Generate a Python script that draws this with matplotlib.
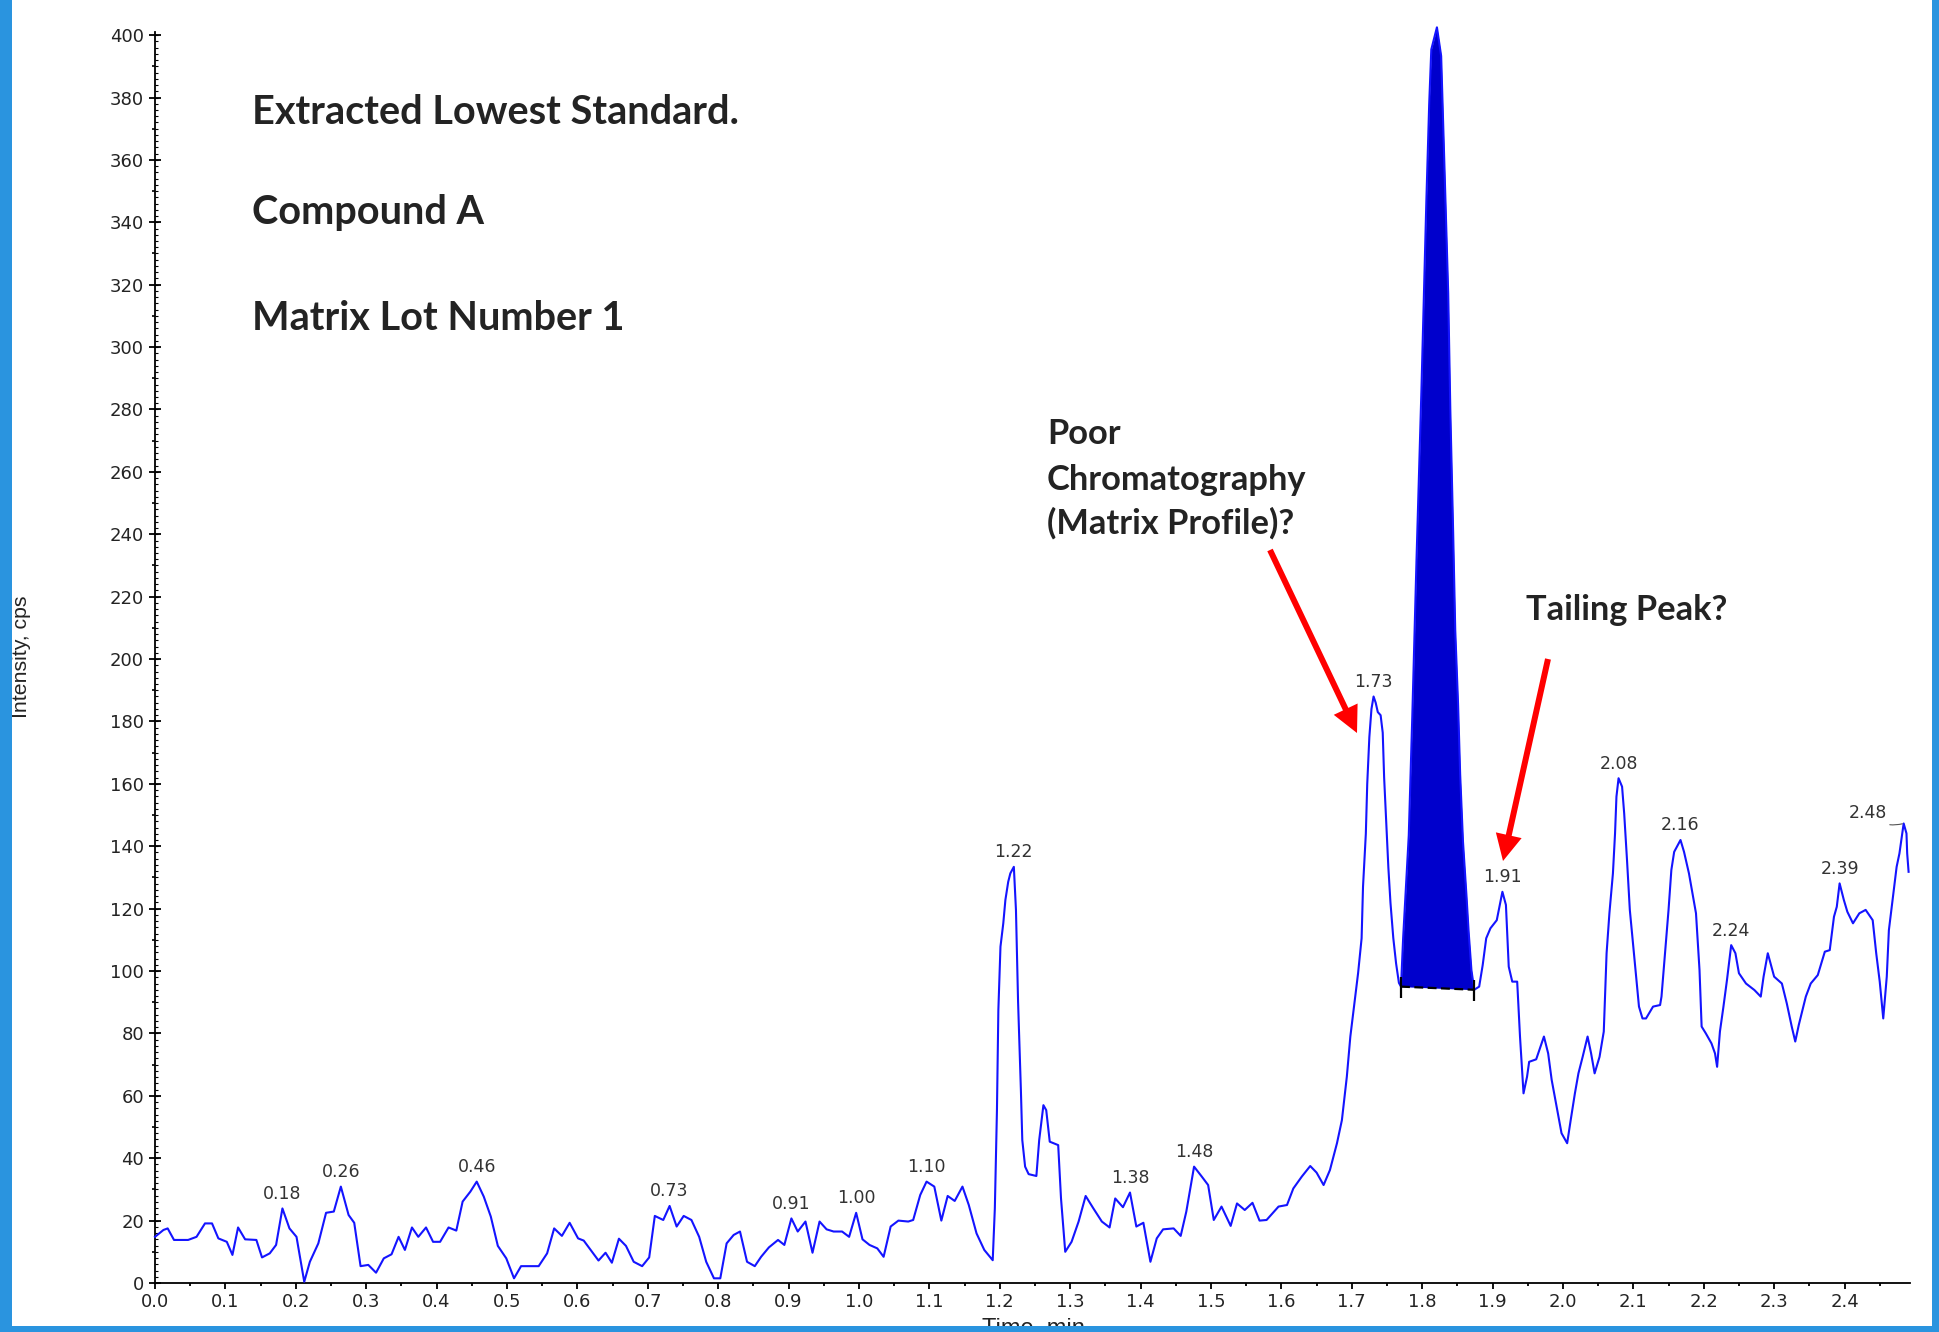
import numpy as np
import matplotlib
matplotlib.use("Agg")
import matplotlib.pyplot as plt
from matplotlib.ticker import MultipleLocator, FormatStrFormatter
from matplotlib.font_manager import FontProperties
from matplotlib.textpath import TextPath
from matplotlib.patches import Rectangle, FancyArrowPatch

# ---------------------------------------------------------------------------
# Extracted ion chromatogram: retention time (min) and intensity (cps)
# ---------------------------------------------------------------------------
time_min = [
    0.000, 0.012, 0.018, 0.027, 0.047, 0.059, 0.071, 0.081, 0.090, 0.102,
    0.110, 0.118, 0.128, 0.144, 0.152, 0.163, 0.172, 0.181, 0.191, 0.201,
    0.212, 0.220, 0.232, 0.243, 0.254, 0.264, 0.275, 0.283, 0.292, 0.303,
    0.314, 0.325, 0.336, 0.346, 0.355, 0.365, 0.374, 0.385, 0.395, 0.405,
    0.417, 0.428, 0.437, 0.448, 0.457, 0.467, 0.477, 0.487, 0.499, 0.510,
    0.520, 0.545, 0.557, 0.567, 0.578, 0.589, 0.601, 0.609, 0.630, 0.640,
    0.649, 0.659, 0.669, 0.680, 0.692, 0.702, 0.710, 0.722, 0.731, 0.741,
    0.751, 0.762, 0.773, 0.783, 0.794, 0.803, 0.812, 0.822, 0.831, 0.841,
    0.852, 0.861, 0.872, 0.885, 0.894, 0.904, 0.913, 0.924, 0.934, 0.944,
    0.954, 0.964, 0.976, 0.986, 0.996, 1.005, 1.015, 1.026, 1.035, 1.045,
    1.056, 1.070, 1.077, 1.087, 1.096, 1.107, 1.117, 1.126, 1.136, 1.147,
    1.156, 1.167, 1.178, 1.190, 1.193, 1.196, 1.198, 1.201, 1.205, 1.208,
    1.212, 1.215, 1.220, 1.223, 1.226, 1.230, 1.232, 1.236, 1.241, 1.252,
    1.256, 1.262, 1.266, 1.271, 1.283, 1.287, 1.293, 1.302, 1.312, 1.322,
    1.333, 1.345, 1.356, 1.364, 1.375, 1.385, 1.394, 1.404, 1.414, 1.423,
    1.432, 1.447, 1.457, 1.465, 1.476, 1.487, 1.496, 1.504, 1.515, 1.528,
    1.537, 1.548, 1.559, 1.569, 1.579, 1.596, 1.608, 1.617, 1.629, 1.641,
    1.650, 1.660, 1.669, 1.679, 1.686, 1.693, 1.698, 1.705, 1.709, 1.714,
    1.716, 1.720, 1.722, 1.725, 1.728, 1.731, 1.734, 1.737, 1.741, 1.744,
    1.746, 1.749, 1.752, 1.755, 1.759, 1.763, 1.767, 1.770, 1.773, 1.781,
    1.786, 1.792, 1.799, 1.806, 1.810, 1.813, 1.821, 1.827, 1.829, 1.833,
    1.837, 1.840, 1.844, 1.847, 1.851, 1.854, 1.858, 1.863, 1.866, 1.870,
    1.874, 1.881, 1.886, 1.891, 1.897, 1.906, 1.914, 1.919, 1.923, 1.928,
    1.935, 1.939, 1.944, 1.949, 1.952, 1.962, 1.973, 1.979, 1.984, 1.991,
    1.998, 2.006, 2.011, 2.017, 2.022, 2.028, 2.035, 2.040, 2.045, 2.052,
    2.058, 2.062, 2.066, 2.071, 2.074, 2.076, 2.079, 2.084, 2.087, 2.091,
    2.095, 2.100, 2.105, 2.108, 2.113, 2.118, 2.128, 2.138, 2.140, 2.145,
    2.150, 2.154, 2.158, 2.167, 2.172, 2.179, 2.184, 2.189, 2.194, 2.197,
    2.203, 2.211, 2.216, 2.219, 2.223, 2.228, 2.233, 2.239, 2.245, 2.250,
    2.260, 2.272, 2.281, 2.285, 2.291, 2.300, 2.311, 2.318, 2.325, 2.330,
    2.335, 2.345, 2.352, 2.362, 2.372, 2.379, 2.385, 2.389, 2.393, 2.399,
    2.404, 2.412, 2.421, 2.430, 2.440, 2.445, 2.450, 2.455, 2.460, 2.463,
    2.468, 2.474, 2.478, 2.484, 2.488, 2.489, 2.491,
]

intensity_cps = [
    14.8, 17.0, 17.5, 13.8, 13.8, 14.8, 19.1, 19.1, 14.3, 13.2,
    9.0, 17.8, 14.0, 13.8, 8.2, 9.5, 12.2, 23.9, 17.5, 14.8,
    0.4, 6.8, 12.7, 22.5, 22.9, 30.9, 21.8, 19.3, 5.4, 5.8,
    3.3, 7.9, 9.2, 14.8, 10.6, 17.8, 14.8, 17.8, 13.2, 13.2,
    17.8, 16.8, 26.1, 29.3, 32.5, 27.7, 21.3, 11.9, 7.9, 1.5,
    5.4, 5.4, 9.5, 17.5, 15.1, 19.3, 14.3, 13.6, 7.2, 9.7,
    6.5, 14.2, 11.9, 6.8, 5.4, 8.2, 21.5, 20.2, 24.7, 18.1,
    21.5, 20.2, 14.8, 6.8, 1.5, 1.5, 12.7, 15.4, 16.5, 6.8,
    5.4, 8.4, 11.4, 13.8, 12.2, 20.7, 16.5, 19.7, 9.7, 19.7,
    17.2, 16.5, 16.5, 14.8, 22.5, 14.0, 12.2, 11.1, 8.4, 18.1,
    20.0, 19.7, 20.2, 28.2, 32.5, 30.9, 20.0, 27.9, 26.3, 30.9,
    25.0, 15.9, 10.6, 7.3, 23.9, 55.4, 87.5, 107.8, 115.3, 122.8,
    128.6, 131.3, 133.4, 119.6, 90.2, 61.9, 45.8, 37.3, 34.9, 34.3,
    45.8, 57.0, 55.4, 45.3, 44.2, 27.1, 10.0, 13.2, 19.7, 27.9,
    23.9, 19.7, 17.8, 27.1, 24.3, 29.0, 18.1, 19.3, 6.8, 14.3,
    17.2, 17.5, 15.1, 22.9, 37.3, 34.1, 31.4, 20.2, 24.5, 18.3,
    25.5, 23.4, 25.7, 20.0, 20.2, 24.5, 25.0, 30.3, 34.1, 37.5,
    35.4, 31.4, 36.2, 44.8, 52.2, 66.1, 79.0, 91.8, 99.3, 110.5,
    127.0, 144.0, 160.0, 175.0, 184.0, 188.0, 186.0, 183.0, 182.0, 176.4,
    162.0, 147.6, 133.2, 121.9, 110.6, 102.4, 96.2, 95.0, 110.6, 143.5,
    181.6, 231.9, 286.4, 347.0, 377.9, 395.4, 402.5, 393.3, 378.0, 348.0,
    317.3, 280.0, 241.0, 209.3, 185.7, 163.0, 141.5, 124.0, 112.7, 100.3,
    94.0, 95.0, 101.9, 110.5, 113.7, 116.3, 125.4, 121.2, 101.4, 96.6,
    96.6, 79.0, 60.8, 66.1, 70.9, 71.7, 79.0, 73.6, 65.1, 56.5,
    48.0, 44.8, 52.2, 60.8, 67.2, 72.5, 79.0, 73.6, 67.2, 72.5,
    80.6, 105.7, 118.5, 131.3, 144.1, 155.9, 161.8, 159.1, 150.5, 135.6,
    119.6, 107.8, 96.0, 88.6, 84.8, 84.8, 88.6, 89.1, 91.8, 105.7,
    119.6, 132.4, 138.2, 142.0, 138.2, 131.3, 124.9, 118.5, 100.3, 82.2,
    80.0, 76.8, 73.6, 69.3, 80.6, 88.6, 97.1, 108.3, 105.7, 99.3,
    96.0, 93.9, 91.8, 98.2, 105.7, 98.2, 96.0, 89.6, 82.2, 77.4,
    82.7, 91.8, 96.0, 98.7, 106.2, 106.7, 117.4, 120.6, 128.1, 122.8,
    119.0, 115.3, 118.5, 119.6, 116.3, 105.7, 96.6, 84.8, 98.2, 113.1,
    122.2, 133.4, 137.7, 147.3, 144.1, 137.7, 131.8,
]

# apex retention times annotated by the data system
peak_labels = ["0.18", "0.26", "0.46", "0.73", "0.91", "1.00", "1.10",
               "1.22", "1.38", "1.48", "1.73", "1.82", "1.91", "2.08",
               "2.16", "2.24", "2.39", "2.48"]

# integration window of the analyte peak and baseline level at each end
integration_window = [1.770, 1.874]
baseline_cps = [95.0, 94.0]

x_tick_step, y_tick_step = 0.1, 20
x_limits, y_limits = (0.0, 2.493), (0.0, 401.0)

header_lines = ["Extracted Lowest Standard.", "Compound A", "Matrix Lot Number 1"]
matrix_note = ["Poor", "Chromatography", "(Matrix Profile)?"]
tailing_note = "Tailing Peak?"
x_label, y_label = "Time, min", "Intensity, cps"

# ---------------------------------------------------------------------------
W, H, DPI = 1939, 1332, 100
TRACE = "#1414FF"
FILL = "#0000CC"
FRAME = "#2A94DF"
TXT = "#232323"

t = np.asarray(time_min)
v = np.asarray(intensity_cps)
assert t.size == v.size


def fx(px):
    """Horizontal figure pixel -> figure fraction."""
    return px / W


def fy(py):
    """Vertical pixel measured from the top -> figure fraction."""
    return (H - py) / H


def fit_size(text, target_px, **font):
    """Font size (pt) at which the inked width of text equals target_px."""
    fp = FontProperties(**font)
    width = TextPath((0, 0), text, size=100, prop=fp).get_extents().width
    return target_px * 72.0 / DPI * 100.0 / width


fig = plt.figure(figsize=(W / DPI, H / DPI), dpi=DPI, facecolor="white")
ax = fig.add_axes([fx(155), 49 / H, fx(1910) - fx(155), (1283 - 32) / H])
ax.set_xlim(*x_limits)
ax.set_ylim(*y_limits)

# chromatogram trace
ax.plot(t, v, color=TRACE, lw=1.5, zorder=3, clip_on=False)

# integrated analyte peak: area between trace and the drawn baseline
in_win = (t >= integration_window[0]) & (t <= integration_window[1])
base = np.interp(t[in_win], integration_window, baseline_cps)
ax.fill_between(t[in_win], v[in_win], base, color=FILL, lw=0, zorder=2,
                clip_on=False)
ax.plot(integration_window, baseline_cps, color="black", lw=1.6,
        ls=(0, (4, 2)), zorder=4)
for tw, bw in zip(integration_window, baseline_cps):
    ax.vlines(tw, bw - 3.5, bw + 3.0, color="black", lw=1.6, zorder=4)

# apex labels
label_font = dict(fontsize=12.5, color="#333333", zorder=5)
for lab in peak_labels:
    t0 = float(lab)
    idx = np.where(np.abs(t - t0) <= 0.008)[0]
    i = idx[np.argmax(v[idx])]
    if lab == peak_labels[-1]:
        ax.annotate(lab, xy=(t[i], v[i]), xytext=(-12, 1),
                    textcoords="offset points", ha="right", va="bottom",
                    arrowprops=dict(arrowstyle="-", lw=0.8, color="#555555",
                                    shrinkA=0, shrinkB=1,
                                    connectionstyle="arc3,rad=0.3"),
                    **label_font)
    else:
        ax.annotate(lab, xy=(t[i], v[i]), xytext=(0, 4),
                    textcoords="offset points", ha="center", va="bottom",
                    **label_font)

# axes styling
for side in ("top", "right"):
    ax.spines[side].set_visible(False)
for side in ("left", "bottom"):
    ax.spines[side].set_linewidth(1.3)
    ax.spines[side].set_color("black")

ax.xaxis.set_major_locator(MultipleLocator(x_tick_step))
ax.xaxis.set_minor_locator(MultipleLocator(x_tick_step / 2))
ax.xaxis.set_major_formatter(FormatStrFormatter("%.1f"))
ax.yaxis.set_major_locator(MultipleLocator(y_tick_step))
ax.yaxis.set_minor_locator(MultipleLocator(y_tick_step / 2))
ax.yaxis.set_major_formatter(FormatStrFormatter("%d"))

ax.tick_params(axis="x", which="major", direction="out", length=4, width=1.3,
               pad=3, labelsize=13, labelcolor=TXT)
ax.tick_params(axis="x", which="minor", direction="out", length=2, width=1.3)
ax.tick_params(axis="y", which="major", direction="inout", length=8, width=1.3,
               pad=4, labelsize=13, labelcolor=TXT)
ax.tick_params(axis="y", which="minor", direction="out", length=2.5, width=1.2)

# fine ruler ticks along the intensity axis
ruler = ax.secondary_yaxis("left")
ruler.yaxis.set_major_locator(MultipleLocator(2))
ruler.tick_params(direction="in", length=2.2, width=0.8, labelleft=False)
ruler.spines["left"].set_visible(False)

# axis titles
ylab_font = dict(family=["Liberation Sans Narrow", "Liberation Sans", "DejaVu Sans"])
fig.text(fx(22), fy(657), y_label, rotation=90, ha="center", va="center",
         fontsize=fit_size(y_label, 120, **ylab_font), color=TXT, **ylab_font)
fig.text(fx(1033), fy(1318), x_label, ha="center", va="top",
         fontsize=17, color=TXT, family=["Liberation Sans", "DejaVu Sans"])

# sample description and annotations
note_font = dict(family=["Lato", "Open Sans", "DejaVu Sans"], weight="bold")
size_head = fit_size(header_lines[0], 481, **note_font)
for txt, base_y in zip(header_lines, (124, 224, 330)):
    fig.text(fx(252), fy(base_y), txt, ha="left", va="baseline",
             fontsize=size_head, color=TXT, **note_font)

size_note = fit_size(matrix_note[1], 258, **note_font)
for txt, base_y in zip(matrix_note, (444, 490, 534)):
    fig.text(fx(1047), fy(base_y), txt, ha="left", va="baseline",
             fontsize=size_note, color=TXT, **note_font)
fig.text(fx(1526), fy(620), tailing_note, ha="left", va="baseline",
         fontsize=size_note, color=TXT, **note_font)

arrow_style = "simple,head_length=19,head_width=19,tail_width=4.3"
for tail, tip in (((1270, 550), (1357, 733)), ((1548, 659), (1503, 861))):
    fig.add_artist(FancyArrowPatch(
        (fx(tail[0]), fy(tail[1])), (fx(tip[0]), fy(tip[1])),
        transform=fig.transFigure, arrowstyle=arrow_style, mutation_scale=1,
        facecolor="#FF0000", edgecolor="none", lw=0, zorder=8,
        shrinkA=0, shrinkB=0))

# slide frame
for x0, y0, w, h in ((0, 0, fx(12), 1), (fx(1932), 0, 1 - fx(1932), 1),
                     (0, 0, 1, 6 / H)):
    fig.add_artist(Rectangle((x0, y0), w, h, transform=fig.transFigure,
                             facecolor=FRAME, edgecolor="none", zorder=10))

fig.savefig("out.png", dpi=DPI, facecolor="white")
